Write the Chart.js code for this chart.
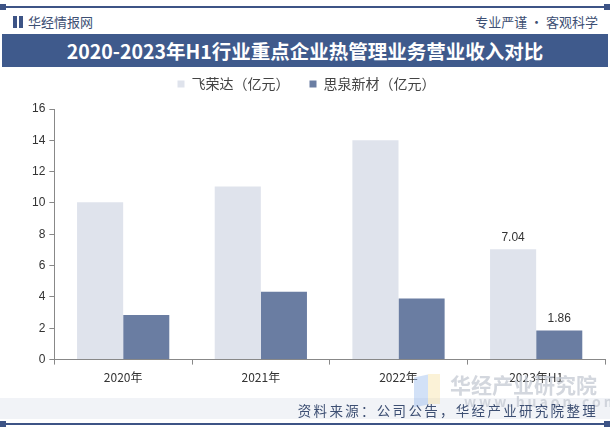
<!DOCTYPE html>
<html>
<head>
<meta charset="utf-8">
<script src="https://cdn.jsdelivr.net/npm/chart.js@4"></script>
<style>
  body { margin: 0; width: 610px; height: 429px; background: #fff; overflow: hidden; position: relative; font-family: "Noto Sans CJK SC", sans-serif; }
  .line { position: absolute; left: 4px; right: 4px; height: 2px; background: #3d5486; }
  .line:before, .line:after { content: ""; position: absolute; top: -2px; width: 6px; height: 6px; background: #3d5486; }
  .line:before { left: -4px; }
  .line:after { right: -4px; }
  #brand { position: absolute; left: 13px; top: 12px; font-size: 13px; color: #3d4f73; }
  #brand i { display: inline-block; width: 4px; height: 12px; background: #3d5486; margin-right: 2px; vertical-align: -1px; }
  #slogan { position: absolute; right: 12px; top: 12px; font-size: 13px; color: #3d4f73; }
  #title { position: absolute; left: 2px; right: 2px; top: 34px; height: 33px; background: #3f5a8c; color: #fff; font-size: 19.5px; font-weight: bold; text-align: center; line-height: 33px; }
  #foot { position: absolute; left: 0; right: 0; top: 398px; height: 21px; background: #f1f3f7; }
  #source { position: absolute; right: 12px; top: 400px; font-size: 13.5px; letter-spacing: 2.3px; color: #3d4f73; }
  #wrap { position: absolute; left: 0; top: 68px; width: 610px; height: 328px; }
  .wm { position: absolute; color: #c5cad3; opacity: 0.75; }
  .blk { position: absolute; opacity: 0.35; }
</style>
</head>
<body>
<div class="line" style="top:6px"></div>
<div id="brand"><i></i><i></i> 华经情报网</div>
<div id="slogan">专业严谨 • 客观科学</div>
<div id="title">2020-2023年H1行业重点企业热管理业务营业收入对比</div>
<div id="wrap"><canvas id="myChart"></canvas></div>
<div id="foot"></div>
<div class="blk" style="left:414px; top:376px; width:14px; height:30px; background:#7fa8e8; transform:skewY(-12deg);"></div>
<div class="blk" style="left:428px; top:374px; width:12px; height:30px; background:#f3d98c;"></div>
<div class="wm" style="left:450px; top:369px; font-size:21px; font-weight:bold;">华经产业研究院</div>
<div class="wm" style="left:464px; top:391px; font-size:14px; font-weight:bold; letter-spacing:3px;">www.huaon.com</div>
<div id="source">资料来源：公司公告，华经产业研究院整理</div>
<div class="line" style="top:423px"></div>
<script>
const categories = ['2020年', '2021年', '2022年', '2023年H1'];
const feirongda = [10.05, 11.05, 14.0, 7.04];
const siquan = [2.85, 4.33, 3.9, 1.86];
const seriesNames = ['飞荣达（亿元）', '思泉新材（亿元）'];

// only the last group carries value labels
const lastLabels = {
  id: 'lastLabels',
  afterDatasetsDraw(chart) {
    const ctx = chart.ctx;
    ctx.save();
    ctx.font = '12px Arial, "Liberation Sans"';
    ctx.fillStyle = '#333';
    ctx.textAlign = 'center';
    ctx.textBaseline = 'bottom';
    chart.data.datasets.forEach((ds, i) => {
      const bar = chart.getDatasetMeta(i).data[categories.length - 1];
      ctx.fillText(ds.data[categories.length - 1].toFixed(2), bar.x, bar.y - 6);
    });
    ctx.restore();
  }
};

const legendGap = {
  id: 'legendGap',
  beforeInit(chart) {
    const fit = chart.legend.fit;
    chart.legend.fit = function () {
      fit.bind(chart.legend)();
      this.height += 8;
    };
  }
};

const config = {
  type: 'bar',
  data: {
    labels: categories,
    datasets: [
      { label: seriesNames[0], data: feirongda, backgroundColor: '#dfe3ec' },
      { label: seriesNames[1], data: siquan, backgroundColor: '#6a7da2' }
    ]
  },
  options: {
    responsive: false,
    animation: false,
    devicePixelRatio: 1,
    categoryPercentage: 0.67,
    barPercentage: 1,
    layout: { padding: { left: 8, right: 5, top: -11, bottom: 5 } },
    plugins: {
      legend: {
        labels: { boxWidth: 7, boxHeight: 7, color: '#444', font: { size: 14, family: '"Noto Sans CJK SC"' }, padding: 20 }
      },
      tooltip: { enabled: false }
    },
    scales: {
      x: {
        grid: { drawOnChartArea: false, offset: true, tickLength: 5, color: '#888' },
        border: { color: '#888' },
        ticks: { color: '#333', font: { size: 12, family: '"Noto Sans CJK SC"' }, padding: 6 }
      },
      y: {
        min: 0, max: 16,
        afterFit(scale) { scale.width += 20; },
        ticks: { stepSize: 2, color: '#333', font: { size: 12, family: 'Arial, "Liberation Sans"' }, padding: 4 },
        grid: { drawOnChartArea: false, tickLength: 5, color: '#888' },
        border: { color: '#888' }
      }
    }
  },
  plugins: [lastLabels, legendGap]
};

const canvas = document.getElementById('myChart');
canvas.width = 610;
canvas.height = 328;
const myChart = new Chart(canvas, config);
</script>
</body>
</html>
